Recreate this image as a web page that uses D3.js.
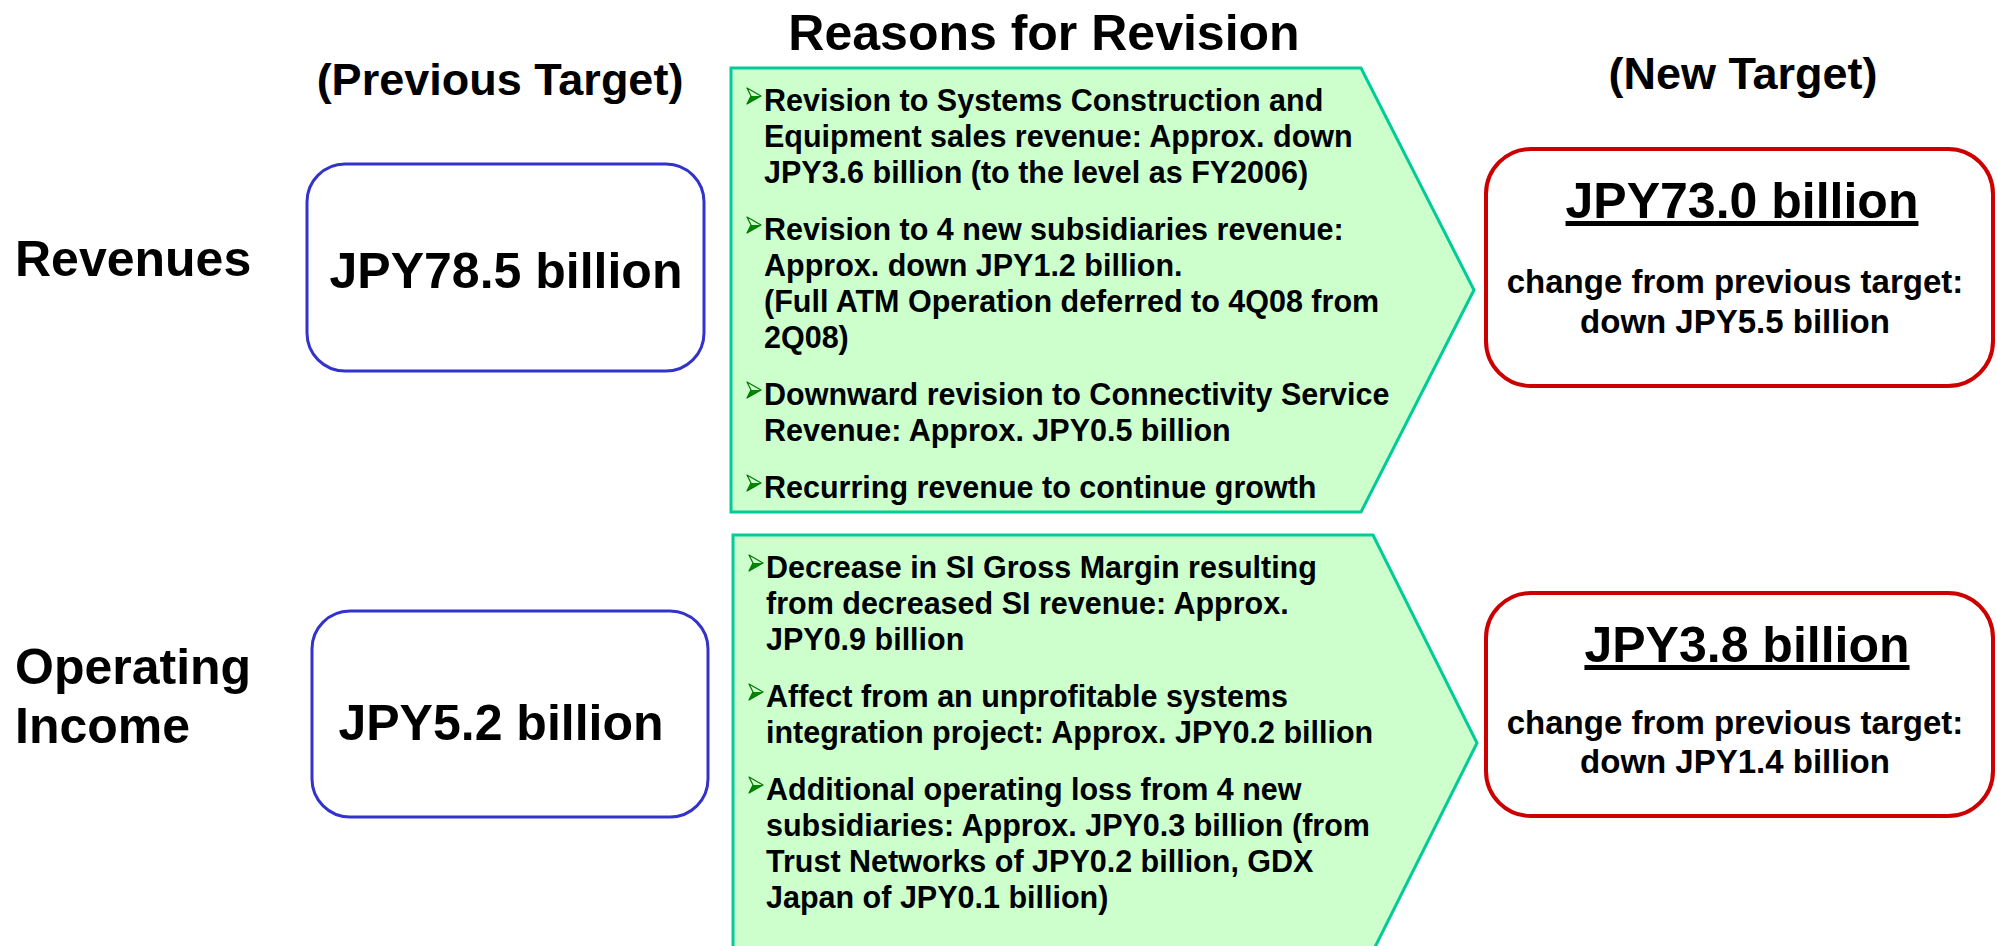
<!DOCTYPE html>
<html>
<head>
<meta charset="utf-8">
<script src="https://cdn.jsdelivr.net/npm/d3@7"></script>
<style>
  body { margin: 0; background: #ffffff; }
  text { font-family: "Liberation Sans", Arial, sans-serif; font-weight: bold; fill: #000000; }
</style>
</head>
<body>
<script>
// rows of the diagram
var categories = [["Revenues"], ["Operating", "Income"]];
var previousTargets = ["JPY78.5 billion", "JPY5.2 billion"];
var newTargets = ["JPY73.0 billion", "JPY3.8 billion"];
var changeLines = [
  ["change from previous target:", "down JPY5.5 billion"],
  ["change from previous target:", "down JPY1.4 billion"]
];
var reasons = [
  [
    ["Revision to Systems Construction and", "Equipment sales revenue: Approx. down", "JPY3.6 billion (to the level as FY2006)"],
    ["Revision to 4 new subsidiaries revenue:", "Approx. down JPY1.2 billion.", "(Full ATM Operation deferred to 4Q08 from", "2Q08)"],
    ["Downward revision to Connectivity Service", "Revenue: Approx. JPY0.5 billion"],
    ["Recurring revenue to continue growth"]
  ],
  [
    ["Decrease in SI Gross Margin resulting", "from decreased SI revenue: Approx.", "JPY0.9 billion"],
    ["Affect from an unprofitable systems", "integration project: Approx. JPY0.2 billion"],
    ["Additional operating loss from 4 new", "subsidiaries: Approx. JPY0.3 billion (from", "Trust Networks of JPY0.2 billion, GDX", "Japan of JPY0.1 billion)"]
  ]
];
var headers = ["(Previous Target)", "Reasons for Revision", "(New Target)"];

window.onload = function(){
  var w = 1997, h = 946;

  var svg = d3.select("body").append("svg")
    .attr("width", w)
    .attr("height", h)
    .attr("class", "container");

  // layout of each row (boxes and arrows)
  var rows = [
    { catY: [276], prev: [307, 164, 397, 207], prevX: 506, prevY: 288,
      arrow: [731, 68, 1361, 1474, 512], next: [1486, 149, 507, 237], nextX: 1742, nextY: [218, 293, 333] },
    { catY: [684, 743], prev: [312, 611, 396, 206], prevX: 501, prevY: 740,
      arrow: [733, 535, 1373, 1477, 951], next: [1486, 593, 507, 223], nextX: 1747, nextY: [662, 734, 773] }
  ];

  //column headers
  svg.selectAll(".header")
    .data(headers)
    .enter()
    .append("text")
    .attr("class", "header")
    .attr("text-anchor", "middle")
    .attr("x", function(d, i){ return [500, 1044, 1743][i]; })
    .attr("y", function(d, i){ return [95, 50, 89][i]; })
    .style("font-size", function(d, i){ return i == 1 ? "50px" : "45px"; })
    .text(function(d){ return d; });

  var row = svg.selectAll(".row")
    .data(rows)
    .enter()
    .append("g")
    .attr("class", "row");

  //category labels on the left
  row.selectAll(".cat")
    .data(function(d, i){ return categories[i].map(function(t, j){ return { t: t, y: d.catY[j] }; }); })
    .enter()
    .append("text")
    .attr("class", "cat")
    .attr("x", 15)
    .attr("y", function(d){ return d.y; })
    .style("font-size", "50px")
    .text(function(d){ return d.t; });

  //previous target box
  row.append("rect")
    .attr("x", function(d){ return d.prev[0]; })
    .attr("y", function(d){ return d.prev[1]; })
    .attr("width", function(d){ return d.prev[2]; })
    .attr("height", function(d){ return d.prev[3]; })
    .attr("rx", 38)
    .style("fill", "#ffffff")
    .style("stroke", "#3333cc")
    .style("stroke-width", 3);

  row.append("text")
    .attr("text-anchor", "middle")
    .attr("x", function(d){ return d.prevX; })
    .attr("y", function(d){ return d.prevY; })
    .style("font-size", "50px")
    .text(function(d, i){ return previousTargets[i]; });

  //green arrow with reasons
  row.append("path")
    .attr("d", function(d){
      var a = d.arrow, mid = (a[1] + a[4]) / 2;
      return "M" + a[0] + "," + a[1] + "L" + a[2] + "," + a[1] + "L" + a[3] + "," + mid +
        "L" + a[2] + "," + a[4] + "L" + a[0] + "," + a[4] + "Z";
    })
    .style("fill", "#ccffcc")
    .style("stroke", "#00cc99")
    .style("stroke-width", 3);

  var lineH = 36, gap = 21;
  row.each(function(d, i){
    var g = d3.select(this);
    var y = d.arrow[1] + 43;
    var lines = [];
    reasons[i].forEach(function(par, p){
      par.forEach(function(t, j){
        lines.push({ t: t, y: y, first: j == 0 });
        y += lineH;
      });
      y += gap;
    });

    g.selectAll(".reason")
      .data(lines)
      .enter()
      .append("text")
      .attr("class", "reason")
      .attr("x", d.arrow[0] + 33)
      .attr("y", function(l){ return l.y; })
      .style("font-size", "30.5px")
      .text(function(l){ return l.t; });

    //arrowhead bullets
    var bullets = g.selectAll(".bullet")
      .data(lines.filter(function(l){ return l.first; }))
      .enter()
      .append("g")
      .attr("class", "bullet")
      .attr("transform", function(l){ return "translate(" + (d.arrow[0] + 16) + "," + (l.y - 15) + ")"; });
    bullets.append("path")
      .attr("d", "M0,-8L14,0L4,0Z")
      .style("fill", "#ccffcc");
    bullets.append("path")
      .attr("d", "M0,8L14,0L4,0Z")
      .style("fill", "#008800");
    bullets.append("path")
      .attr("d", "M0,-8L14,0L0,8L4,0Z")
      .style("fill", "none")
      .style("stroke", "#007700")
      .style("stroke-width", 1.2)
      .style("stroke-linejoin", "round");
  });

  //new target box
  row.append("rect")
    .attr("x", function(d){ return d.next[0]; })
    .attr("y", function(d){ return d.next[1]; })
    .attr("width", function(d){ return d.next[2]; })
    .attr("height", function(d){ return d.next[3]; })
    .attr("rx", 45)
    .style("fill", "#ffffff")
    .style("stroke", "#cc0000")
    .style("stroke-width", 4);

  row.append("text")
    .attr("text-anchor", "middle")
    .attr("x", function(d){ return d.nextX; })
    .attr("y", function(d){ return d.nextY[0]; })
    .style("font-size", "50px")
    .style("text-decoration", "underline")
    .text(function(d, i){ return newTargets[i]; });

  row.selectAll(".change")
    .data(function(d, i){ return changeLines[i].map(function(t, j){ return { t: t, y: d.nextY[j + 1] }; }); })
    .enter()
    .append("text")
    .attr("class", "change")
    .attr("text-anchor", "middle")
    .attr("x", 1735)
    .attr("y", function(d){ return d.y; })
    .style("font-size", "33px")
    .text(function(d){ return d.t; });
};
</script>
</body>
</html>
